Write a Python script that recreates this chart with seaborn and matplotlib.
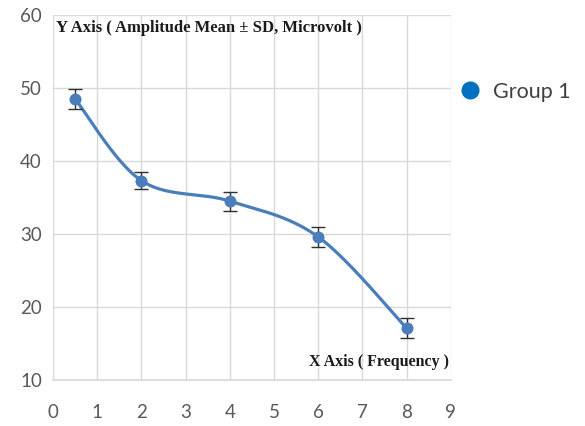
import numpy as np
import pandas as pd
import matplotlib
matplotlib.use("Agg")
import matplotlib.pyplot as plt
from matplotlib.lines import Line2D
import seaborn as sns

# Data
frequency = [0.5, 2, 4, 6, 8]
amplitude = [48.5, 37.3, 34.5, 29.6, 17.1]
sd = [1.4, 1.2, 1.3, 1.4, 1.4]
x_ticks = [0, 1, 2, 3, 4, 5, 6, 7, 8, 9]
y_ticks = [10, 20, 30, 40, 50, 60]
series_name = "Group 1"
y_note = "Y Axis ( Amplitude Mean \u00b1 SD, Microvolt )"
x_note = "X Axis ( Frequency )"

LINE = "#4A7EBB"
LEG = "#0070C0"
GRID = "#D9D9D9"
TXT = "#595959"


def smooth_curve(x, y, n=40):
    # Excel-style smoothed line (Catmull-Rom / Bezier with 1/6 tension)
    x = np.asarray(x, float); y = np.asarray(y, float)
    px = np.concatenate([[x[0]], x, [x[-1]]])
    py = np.concatenate([[y[0]], y, [y[-1]]])
    xs, ys = [], []
    t = np.linspace(0, 1, n)
    for i in range(1, len(px) - 2):
        p0 = np.array([px[i], py[i]]); p3 = np.array([px[i + 1], py[i + 1]])
        p1 = p0 + (np.array([px[i + 1], py[i + 1]]) - np.array([px[i - 1], py[i - 1]])) / 6
        p2 = p3 - (np.array([px[i + 2], py[i + 2]]) - np.array([px[i], py[i]])) / 6
        b = ((1 - t) ** 3)[:, None] * p0 + (3 * (1 - t) ** 2 * t)[:, None] * p1 \
            + (3 * (1 - t) * t ** 2)[:, None] * p2 + (t ** 3)[:, None] * p3
        xs.extend(b[:, 0]); ys.extend(b[:, 1])
    return np.array(xs), np.array(ys)


sns.set_theme(style="white")
plt.rcParams['font.family'] = ['Lato', 'DejaVu Sans']

fig = plt.figure(figsize=(5.85, 4.26), dpi=100)
ax = fig.add_axes([0.0906, 0.108, 0.680, 0.857])

sx, sy = smooth_curve(frequency, amplitude)
curve = pd.DataFrame({"x": sx, "y": sy})
sns.lineplot(data=curve, x="x", y="y", sort=False, color=LINE, linewidth=2.3, ax=ax, zorder=3)

ax.errorbar(frequency, amplitude, yerr=sd, fmt="none", ecolor="#2F2F2F", elinewidth=1.0,
            capsize=5, capthick=1.0, zorder=4)
df = pd.DataFrame({"frequency": frequency, "amplitude": amplitude})
sns.scatterplot(data=df, x="frequency", y="amplitude", color=LINE, s=75, edgecolor=LINE,
                linewidth=0, ax=ax, zorder=5)

ax.set_xlim(0, 9)
ax.set_ylim(10, 60)
ax.set_xticks(x_ticks)
ax.set_yticks(y_ticks)
ax.grid(True, color=GRID, linewidth=1.0)
ax.set_axisbelow(True)
for s in ax.spines.values():
    s.set_visible(False)
ax.spines["bottom"].set_visible(True)
ax.spines["bottom"].set_color(GRID)
ax.tick_params(axis="x", length=0, labelsize=13.5, labelcolor=TXT, pad=17)
ax.tick_params(axis="y", length=0, labelsize=13.5, labelcolor=TXT, pad=8)
ax.set_xlabel("")
ax.set_ylabel("")

ax.text(0.06, 58.2, y_note, family="Liberation Serif", fontweight="bold", fontsize=12,
        color="#1A1A1A", va="center", ha="left")
ax.text(8.97, 12.4, x_note, family="Liberation Serif", fontweight="bold", fontsize=11.5,
        color="#1A1A1A", va="center", ha="right")

handle = Line2D([], [], marker="o", linestyle="none", markersize=12, color=LEG)
fig.legend(handles=[handle], labels=[series_name], loc="center left",
           bbox_to_anchor=(0.752, 0.785), frameon=False, fontsize=15.5,
           handletextpad=0.55, handlelength=1.0, labelcolor="#404040")

fig.savefig("out.png", dpi=100)
